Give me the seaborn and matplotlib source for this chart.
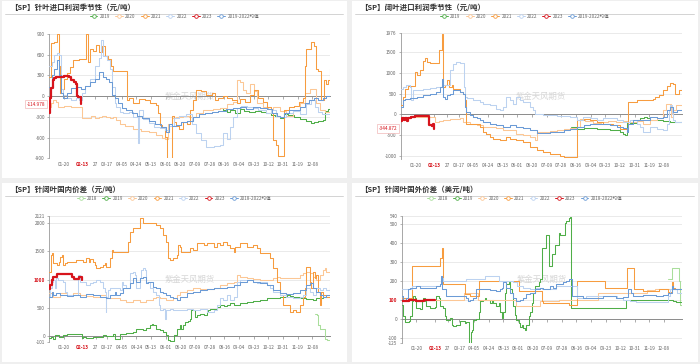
#seasonal spread charts for softwood / hardwood pulp, 4 panels in a 2x2 card layout
import matplotlib
matplotlib.use("Agg")
import matplotlib.pyplot as plt
from matplotlib.lines import Line2D
from matplotlib.patches import Rectangle
import seaborn as sns

#x axis is day of year, ticks as shown on the reference
tick_days   = [20, 44, 61, 76, 95, 114, 133, 152, 171, 190, 209, 228, 247, 266, 285, 304, 323, 342]
tick_labels = ["01-20", "02-13", "27", "03-17", "04-05", "04-24", "05-13", "06-01", "06-20",
               "07-09", "07-28", "08-16", "09-04", "09-23", "10-12", "10-31", "11-19", "12-08"]

#panel 1: softwood import profit (day, value)
p1_2019 = [(222,-170),(226,-200),(231,-230),(236,-200),(242,-240),(248,-180),(254,-210),(260,-230),(268,-210),
           (276,-230),(282,-250),(288,-270),(294,-280),(300,-320),(305,-260),(311,-270),(318,-300),(326,-330),
           (334,-360),(340,-390),(344,-380),(350,-360),(356,-350),(358,-210),(362,-180),(365,-160)]
p1_2020 = [(1,-150),(3,-100),(6,-60),(10,-90),(13,-150),(20,-140),(30,-150),(43,-150),(44,-320),(50,-310),
           (55,-290),(60,-320),(66,-300),(70,-280),(75,-300),(80,-320),(84,-300),(88,-350),(93,-400),(100,-430),
           (110,-470),(120,-500),(130,-520),(140,-560),(148,-600),(151,-620),(155,-400),(160,-320),(166,-300),
           (175,-290),(183,-300),(192,-250),(200,-200),(213,-180),(222,-170),(231,-120),(240,-80),(244,230),
           (248,200),(252,90),(256,50),(262,180),(266,80),(270,-100),(278,-150),(285,-180),(291,-150),(300,-220),
           (308,-280),(317,-220),(326,-100),(332,50),(339,100),(343,100),(347,-100),(352,-200),(358,-230),(365,-230)]
p1_2021 = [(1,285),(3,770),(8,780),(12,900),(14,430),(15,50),(17,100),(20,250),(24,330),(28,420),(32,530),
           (40,545),(47,545),(49,900),(51,880),(52,500),(54,680),(58,650),(62,740),(66,640),(70,720),(74,580),
           (78,540),(81,440),(84,370),(101,370),(102,-50),(105,-20),(110,-100),(118,-40),(125,-60),(132,-100),
           (140,-130),(142,-240),(145,-420),(148,-450),(151,-590),(154,-900),(158,-900),(160,-280),(163,-380),
           (166,-430),(170,-470),(175,-380),(180,-400),(184,-200),(188,-50),(192,90),(198,70),(205,20),(212,50),
           (216,-50),(220,-20),(226,0),(232,-30),(238,-60),(244,-100),(248,-40),(255,-80),(262,20),(266,90),
           (272,-20),(278,-80),(283,-150),(288,-250),(291,-630),(295,-700),(298,-860),(305,-860),(306,-200),
           (312,-160),(318,-140),(325,-80),(330,-20),(332,430),(334,680),(340,780),(344,720),(347,400),(350,370),
           (354,-50),(357,230),(360,180),(363,230),(365,400)]
p1_2022 = [(1,430),(5,500),(8,600),(12,620),(14,600),(16,100),(19,20),(24,-30),(30,-60),(36,-20),(40,-50),
           (44,50),(48,150),(54,250),(60,430),(66,550),(69,820),(71,580),(76,530),(80,400),(82,140),(86,-100),
           (88,-150),(93,-230),(97,-240),(105,-230),(110,-300),(116,-680),(118,-200),(123,-330),(130,-390),
           (137,-440),(145,-460),(151,-490),(157,-430),(163,-320),(170,-280),(179,-260),(186,-400),(192,-530),
           (198,-640),(205,-730),(215,-720),(222,-700),(226,-540),(231,-620),(235,-450),(239,-300),(244,-170),
           (250,-140),(257,-150),(265,-170),(272,-200),(282,-250),(288,-200),(295,-280),(300,-300),(308,-250),
           (317,-220),(326,-260),(334,-120),(340,-50),(345,-150),(350,-230),(355,-260),(365,-260)]
p1_2023 = [(1,-250),(2,-30),(4,120),(6,230),(8,270),(10,285),(20,290),(27,285),(30,230),(33,200),(36,180),
           (37,0),(38,-5),(42,-60),(43,-115)]
p1_mean = [(1,140),(5,300),(8,400),(12,520),(14,300),(16,40),(19,-20),(24,40),(30,120),(36,130),(42,100),
           (48,150),(54,200),(60,250),(66,350),(71,280),(75,250),(79,200),(82,20),(86,-30),(90,-100),(96,-170),
           (101,-200),(108,-250),(115,-290),(122,-320),(130,-360),(138,-400),(146,-440),(152,-520),(156,-400),
           (160,-430),(166,-420),(172,-380),(180,-360),(188,-300),(195,-260),(203,-250),(212,-230),(220,-220),
           (230,-190),(240,-170),(248,-150),(256,-180),(265,-160),(274,-170),(283,-180),(290,-250),(296,-280),
           (300,-300),(306,-250),(312,-200),(320,-200),(326,-160),(332,-100),(338,-50),(344,-20),(350,-50),
           (356,-20),(360,0),(365,20)]

#panel 2: hardwood import profit
p2_2019 = [(222,-300),(229,-350),(238,-330),(255,-350),(263,-360),(272,-370),(281,-390),(285,-420),(289,-470),
           (292,-510),(294,-185),(298,-210),(307,-145),(311,-100),(316,-65),(320,-100),(324,-130),(333,-145),
           (341,-160),(350,-185),(359,-185),(365,-150)]
p2_2020 = [(1,-145),(3,-80),(10,-60),(43,-60),(45,-185),(50,-150),(56,-145),(65,-120),(78,-100),(82,-185),
           (91,-225),(100,-265),(108,-300),(125,-330),(134,-370),(151,-470),(160,-510),(169,-550),(175,-630),
           (177,-430),(186,-420),(194,-410),(203,-385),(212,-360),(220,-330),(229,-300),(233,-120),(240,-150),
           (250,-200),(260,-180),(270,-150),(280,-185),(290,-150),(296,-185),(307,-150),(315,-230),(324,-145),
           (333,-100),(341,100),(345,260),(350,260),(351,-60),(354,100),(358,220),(365,200)]
p2_2021 = [(1,220),(4,420),(7,620),(11,680),(19,700),(20,1020),(22,940),(26,1060),(30,1300),(33,1350),
           (35,1270),(39,1240),(46,1250),(50,1270),(51,1550),(54,1630),(55,1950),(56,660),(58,700),(61,820),
           (63,660),(67,700),(69,620),(74,620),(78,540),(82,500),(84,340),(86,-225),(100,-225),(104,-300),
           (108,-430),(112,-470),(117,-550),(121,-600),(130,-630),(138,-550),(143,-600),(151,-630),(160,-660),
           (168,-790),(177,-870),(186,-910),(194,-950),(203,-960),(207,-1015),(212,-1030),(229,-1040),(230,-145),
           (238,-110),(246,-145),(255,-185),(263,-225),(276,-260),(285,-350),(294,-430),(296,300),(307,355),
           (324,355),(328,380),(331,420),(335,460),(341,580),(346,680),(350,760),(354,740),(356,500),(361,580),
           (365,640)]
p2_2022 = [(1,620),(4,660),(8,700),(13,660),(14,340),(17,580),(22,600),(30,610),(39,640),(47,660),(54,700),
           (65,1060),(69,1220),(73,1265),(78,1240),(82,1240),(83,660),(84,420),(87,400),(95,340),(104,300),
           (108,260),(117,220),(125,140),(130,100),(134,180),(138,420),(143,340),(147,260),(151,420),(156,340),
           (160,300),(168,180),(173,100),(175,0),(186,-10),(194,-20),(203,-40),(212,-30),(220,-60),(229,-145),
           (237,-60),(246,-100),(255,-145),(263,-100),(281,-145),(289,-185),(298,-145),(307,-225),(311,-300),
           (315,-430),(324,-300),(333,-350),(341,-390),(346,-230),(348,100),(350,220),(352,0),(354,-145),
           (356,-185),(365,-185)]
p2_2023 = [(1,-150),(3,-100),(5,-140),(7,-90),(9,-150),(11,-80),(14,-60),(20,-50),(30,-50),(37,-50),
           (38,-250),(41,-270),(43,-230),(44,-345)]
p2_mean = [(1,180),(4,340),(7,380),(13,400),(22,420),(30,460),(39,500),(47,540),(52,660),(54,860),(56,420),
           (58,380),(61,460),(65,500),(69,580),(78,540),(82,500),(84,180),(86,60),(91,-25),(95,-60),(100,-100),
           (104,-145),(108,-185),(117,-225),(125,-265),(134,-300),(143,-265),(151,-300),(160,-340),(168,-385),
           (177,-450),(194,-430),(203,-420),(212,-385),(220,-350),(229,-300),(238,-265),(246,-240),(255,-225),
           (263,-240),(272,-265),(281,-300),(289,-340),(294,-420),(296,-225),(302,-145),(320,-140),(324,-65),
           (333,-100),(341,-65),(346,100),(350,180),(354,60),(359,100),(365,140)]

#panel 3: softwood minus hardwood, domestic price spread
p3_2018 = [(345,402),(348,380),(350,195),(352,136),(356,136),(358,-41),(361,-60),(365,-60)]
p3_2019 = [(1,-30),(3,-12),(6,-41),(8,30),(11,30),(13,-12),(15,-12),(19,30),(24,47),(41,47),(43,-30),
           (45,-12),(49,-30),(58,-20),(62,-12),(67,-12),(71,18),(75,6),(84,47),(86,-41),(90,-41),(93,47),
           (101,65),(110,77),(114,136),(118,136),(123,106),(127,148),(131,195),(134,225),(136,195),(138,207),
           (140,136),(144,106),(149,77),(153,18),(155,-70),(157,-89),(162,-89),(163,18),(166,136),(170,195),
           (172,136),(174,195),(177,254),(181,266),(183,314),(185,462),(188,462),(190,343),(192,373),(196,402),
           (201,373),(205,432),(207,462),(209,491),(214,491),(218,520),(222,550),(227,536),(231,560),(235,580),
           (240,560),(248,580),(257,609),(265,620),(274,639),(278,639),(283,680),(291,669),(300,698),(309,728),
           (313,716),(317,698),(326,680),(334,657),(343,639),(347,669),(352,669),(356,698),(365,698)]
p3_2020 = [(1,757),(6,698),(15,757),(24,728),(32,757),(41,728),(49,718),(58,698),(67,728),(75,669),(84,669),
           (93,639),(101,609),(110,639),(118,609),(127,639),(136,669),(140,698),(144,669),(153,639),(162,669),
           (166,728),(170,787),(179,816),(188,846),(196,834),(205,834),(214,857),(222,905),(231,935),(240,964),
           (244,1083),(248,1053),(257,1024),(265,1012),(274,994),(283,994),(291,1024),(296,1053),(300,1024),
           (308,1024),(317,1036),(326,1083),(330,1112),(334,1142),(339,1112),(343,1053),(347,994),(352,1083),
           (356,1172),(358,1201),(360,1142),(365,1142)]
p3_2021 = [(1,1142),(3,1438),(5,1467),(6,1290),(11,1260),(14,1320),(15,1408),(17,1438),(19,1260),(21,1290),
           (24,1320),(36,1350),(45,1320),(49,1379),(52,1320),(54,1370),(58,1320),(60,1260),(62,1201),(67,1230),
           (71,1260),(73,1290),(75,1230),(80,1379),(82,1526),(84,1497),(101,1497),(103,1674),(106,1852),
           (110,1911),(116,1911),(118,2089),(123,2000),(140,1970),(144,1911),(149,1793),(153,1674),(155,1379),
           (157,1350),(162,1379),(166,1438),(168,1615),(170,1585),(172,1497),(183,1556),(188,1526),(192,1644),
           (201,1615),(205,1644),(214,1585),(218,1644),(222,1615),(226,1674),(231,1615),(235,1556),(240,1497),
           (242,1585),(248,1644),(257,1585),(265,1615),(270,1556),(274,1467),(287,1379),(291,1201),(296,964),
           (300,728),(304,550),(313,432),(317,460),(321,432),(326,550),(330,698),(332,846),(334,1230),(339,964),
           (341,846),(343,1142),(345,1024),(347,1083),(350,787),(352,550),(354,787),(356,728),(360,698),(365,935)]
p3_2022 = [(1,698),(2,846),(5,964),(6,994),(8,846),(10,1024),(12,994),(17,994),(19,964),(21,787),(24,728),
           (36,728),(38,1083),(41,964),(45,964),(49,905),(54,935),(58,964),(62,994),(67,964),(71,846),(73,787),
           (74,432),(75,698),(77,816),(80,846),(88,846),(93,816),(95,964),(97,905),(101,846),(106,1112),
           (110,1142),(112,1083),(114,846),(118,1024),(120,1172),(123,1201),(125,1172),(127,964),(131,846),
           (136,787),(140,728),(143,550),(144,462),(148,491),(151,314),(153,462),(157,491),(162,462),(170,462),
           (179,491),(188,462),(196,491),(205,432),(214,462),(218,550),(222,669),(226,639),(231,728),(235,639),
           (240,698),(244,964),(248,994),(265,964),(270,935),(274,964),(283,905),(287,846),(291,787),(300,728),
           (308,698),(317,669),(326,698),(330,728),(334,846),(339,787),(343,728),(347,846),(352,816),(356,846),
           (360,816),(365,846)]
p3_2023 = [(1,834),(2,905),(4,994),(6,1040),(9,1053),(11,1095),(28,1095),(30,1053),(33,1012),(37,1012),
           (39,1053),(41,1040),(43,1000)]
p3_mean = [(1,698),(4,787),(6,728),(10,757),(15,728),(24,710),(32,728),(41,698),(49,740),(58,728),(67,698),
           (75,669),(80,728),(86,787),(88,728),(93,757),(97,846),(101,846),(106,935),(110,1024),(114,964),
           (118,1024),(123,1053),(127,935),(129,964),(136,875),(140,846),(144,787),(149,757),(153,728),(157,698),
           (162,669),(166,639),(170,698),(179,757),(188,787),(196,816),(205,834),(214,846),(222,857),(231,875),
           (240,905),(248,964),(257,994),(265,964),(274,935),(283,905),(291,816),(300,757),(308,740),(317,757),
           (326,816),(334,905),(339,935),(343,846),(347,787),(352,728),(356,698),(360,728),(365,698)]

#panel 4: softwood minus hardwood, overseas price spread (USD)
p4_2018 = [(347,210),(350,210),(352,267),(358,267),(361,200),(363,75),(365,66)]
p4_2019 = [(1,75),(3,13),(5,-14),(10,-10),(12,13),(14,93),(16,120),(18,111),(20,57),(25,52),(27,102),
           (29,111),(31,93),(33,66),(38,57),(44,62),(46,120),(49,111),(51,66),(55,57),(57,13),(59,-5),(64,4),
           (66,-32),(68,-37),(72,-32),(77,-9),(83,-23),(85,-14),(88,-113),(89,-131),(91,-68),(92,-59),(94,-5),
           (98,-2),(101,39),(103,93),(107,102),(109,111),(111,98),(116,84),(118,98),(120,84),(124,66),(127,84),
           (129,39),(131,4),(133,39),(135,138),(137,183),(140,192),(142,156),(144,138),(146,66),(148,21),
           (150,-5),(153,-23),(155,-41),(157,-32),(159,-50),(161,-59),(163,-32),(166,13),(168,39),(170,84),
           (172,138),(174,174),(179,192),(181,210),(183,371),(187,371),(189,443),(192,281),(196,344),(200,389),
           (205,452),(207,443),(211,443),(213,505),(215,514),(218,532),(220,536),(221,57),(292,57),(293,98),
           (341,102),(354,93),(358,88),(365,88)]
p4_2020 = [(1,100),(40,100),(82,138),(100,102),(148,102),(150,66),(178,66),(181,93),(200,93),(205,100),
           (255,102),(256,138),(300,138),(320,150),(330,156),(365,156)]
p4_2021 = [(1,110),(13,110),(14,281),(50,281),(51,320),(53,371),(55,183),(81,183),(83,129),(90,120),
           (100,120),(102,200),(152,200),(154,147),(168,147),(183,93),(185,84),(219,75),(229,200),(263,200),
           (265,165),(293,165),(294,267),(302,267),(303,156),(310,156),(315,147),(332,147),(335,160),(345,160),
           (347,140),(352,192),(354,165),(356,156),(365,156)]
p4_2022 = [(1,156),(13,156),(14,174),(46,174),(51,182),(52,218),(55,200),(81,200),(84,210),(107,210),
           (109,228),(125,228),(127,200),(137,200),(146,192),(151,174),(159,165),(168,156),(176,165),(183,156),
           (194,156),(202,174),(220,174),(229,111),(240,120),(272,120),(281,111),(289,102),(298,93),(306,88),
           (341,88),(347,120),(350,156),(356,156),(359,138),(365,111)]
p4_2023 = [(1,95),(10,98),(20,96),(30,98),(44,100)]
p4_mean = [(1,120),(3,102),(7,111),(9,156),(12,165),(20,174),(25,165),(42,165),(46,174),(51,183),(52,228),
           (54,156),(59,120),(72,120),(85,111),(87,93),(90,102),(94,111),(98,156),(107,156),(116,152),(124,147),
           (129,156),(131,165),(133,192),(137,165),(142,138),(146,111),(150,93),(155,102),(159,111),(163,129),
           (168,138),(174,156),(181,165),(185,156),(194,174),(198,165),(202,183),(211,192),(215,200),(219,210),
           (222,120),(237,111),(254,111),(263,120),(280,111),(289,115),(295,156),(299,138),(302,120),(315,124),
           (332,120),(341,124),(347,138),(352,174),(354,156),(358,156),(365,111)]

colors = {
    "2018": "#a9de9b",
    "2019": "#4fae48",
    "2020": "#fcc795",
    "2021": "#f79c3f",
    "2022": "#bcd2f0",
    "2023": "#d7141c",
    "mean": "#6b9bd6",
}

panels = [
    {
        "title": "【SP】针叶进口利润季节性（元/吨）",
        "series": [("2019", p1_2019), ("2020", p1_2020), ("2021", p1_2021), ("2022", p1_2022),
                   ("2023", p1_2023), ("2019-2022均值", p1_mean)],
        "yticks": [-900, -600, -300, 0, 300, 600, 900],
        "ylim": (-900, 900),
        "current": -114.978, "current_text": "-114.978",
        "rect": [0.070, 0.565, 0.4014, 0.3415], "card": (2, 1, 347, 178),
    },
    {
        "title": "【SP】阔叶进口利润季节性（元/吨）",
        "series": [("2019", p2_2019), ("2020", p2_2020), ("2021", p2_2021), ("2022", p2_2022),
                   ("2023", p2_2023), ("2019-2022均值", p2_mean)],
        "yticks": [-1000, -500, 0, 500, 1000, 1500, 1976],
        "ylim": (-1090, 1976),
        "current": -344.872, "current_text": "-344.872",
        "rect": [0.5724, 0.562, 0.4014, 0.3485], "card": (352, 1, 698, 178),
    },
    {
        "title": "【SP】针阔叶国内价差（元/吨）",
        "series": [("2018", p3_2018), ("2019", p3_2019), ("2020", p3_2020), ("2021", p3_2021),
                   ("2022", p3_2022), ("2023", p3_2023), ("2018-2022均值", p3_mean)],
        "yticks": [-101, 0, 500, 1000, 1500, 2000, 2121],
        "ylim": (-101, 2121),
        "current": 1000, "current_text": "1000",
        "rect": [0.0704, 0.0604, 0.4010, 0.3453], "card": (2, 183, 347, 362),
    },
    {
        "title": "【SP】针阔叶国外价差（美元/吨）",
        "series": [("2018", p4_2018), ("2019", p4_2019), ("2020", p4_2020), ("2021", p4_2021),
                   ("2022", p4_2022), ("2023", p4_2023), ("2018-2022均值", p4_mean)],
        "yticks": [-125, -100, 0, 100, 200, 300, 400, 500, 540],
        "ylim": (-125, 540),
        "current": 100, "current_text": "100",
        "rect": [0.5739, 0.0585, 0.4000, 0.3473], "card": (352, 183, 698, 362),
    },
]

sns.set_theme(style="white")
plt.rcParams["font.family"] = ["Noto Sans CJK SC", "DejaVu Sans"]
plt.rcParams["axes.unicode_minus"] = False

W, H = 700, 364
fig = plt.figure(figsize=(7.0, 3.64), dpi=100)
fig.patch.set_facecolor("#efefef")

def series_color(name):
    return colors["mean"] if "均值" in name else colors[name]

for p in panels:
    x0, y0, x1, y1 = p["card"]
    fig.add_artist(Rectangle((x0 / W, 1 - y1 / H), (x1 - x0) / W, (y1 - y0) / H,
                             transform=fig.transFigure, facecolor="white", edgecolor="none", zorder=0))
    #title and the thin rule under it
    fig.text((x0 + 8) / W, 1 - (y0 + 6) / H, p["title"], fontsize=5.4, fontweight="bold",
             color="#333333", ha="left", va="center")
    fig.add_artist(Line2D([(x0 + 3) / W, (x1 - 4) / W], [1 - (y0 + 12.5) / H] * 2,
                          transform=fig.transFigure, color="#cccccc", lw=0.6))

    ax = fig.add_axes(p["rect"])
    ax.set_facecolor("none")

    handles = []
    for name, pts in p["series"]:
        days = [d for d, v in pts]
        vals = [v for d, v in pts]
        c = series_color(name)
        is_cur = name == "2023"
        sns.lineplot(x=days, y=vals, ax=ax, color=c, linewidth=1.6 if is_cur else 0.75,
                     drawstyle="steps-post", estimator=None, sort=False, legend=False,
                     zorder=5 if is_cur else 3)
        handles.append(Line2D([0], [0], color=c, lw=0.7, marker="o", ms=2.6,
                              mfc="white", mec=c, mew=0.6, label=name))

    ax.set_xlim(1, 365)
    ax.set_ylim(*p["ylim"])
    ax.set_yticks(p["yticks"])
    ax.set_yticklabels([str(t) for t in p["yticks"]])
    ax.yaxis.grid(True, color="#e6e6e6", lw=0.6)
    ax.xaxis.grid(False)
    ax.set_axisbelow(True)
    ax.tick_params(axis="y", length=1.5, width=0.5, color="#999999", labelsize=3.4,
                   labelcolor="#666666", pad=1.5, left=True)
    for side in ["top", "right"]:
        ax.spines[side].set_visible(False)
    ax.spines["left"].set_color("#999999")
    ax.spines["left"].set_linewidth(0.6)
    #x axis line sits on zero with small ticks, labels stay at the bottom
    ax.spines["bottom"].set_position(("data", 0))
    ax.spines["bottom"].set_color("#8c8c8c")
    ax.spines["bottom"].set_linewidth(0.7)
    ax.set_xticks(tick_days)
    ax.tick_params(axis="x", length=1.8, width=0.5, color="#8c8c8c", labelbottom=False, bottom=True)
    ax.set_xlabel("")
    ax.set_ylabel("")

    sec = ax.secondary_xaxis("bottom")
    sec.set_xticks(tick_days)
    sec.set_xticklabels(tick_labels)
    sec.tick_params(length=0, labelsize=3.4, labelcolor="#666666", pad=2.5)
    sec.spines["bottom"].set_visible(False)
    lab = sec.get_xticklabels()[1]
    lab.set_color(colors["2023"])
    lab.set_fontweight("bold")

    #current value marker on the y axis
    cur = p["current"]
    if cur in p["yticks"]:
        tl = ax.get_yticklabels()[p["yticks"].index(cur)]
        tl.set_color(colors["2023"])
        tl.set_fontweight("bold")
    else:
        ax.text(-0.012, cur, p["current_text"], transform=ax.get_yaxis_transform(),
                ha="right", va="center", fontsize=3.4, color=colors["2023"],
                bbox=dict(boxstyle="square,pad=0.35", fc="white", ec="#f2b8b8", lw=0.5))

    #watermark
    ax.text(0.5, 0.5, "紫金天风期货", transform=ax.transAxes, ha="center", va="center",
            fontsize=6, color="#d6d6d6", zorder=1)

    cx = (x0 + x1) / 2 / W
    fig.legend(handles=handles, loc="center", bbox_to_anchor=(cx, 1 - (y0 + 15.5) / H),
               ncol=len(handles), frameon=False, fontsize=3.3, labelcolor="#666666",
               handlelength=1.7, handletextpad=0.5, columnspacing=1.1, borderaxespad=0)

fig.savefig("out.png", dpi=100, facecolor=fig.get_facecolor())
